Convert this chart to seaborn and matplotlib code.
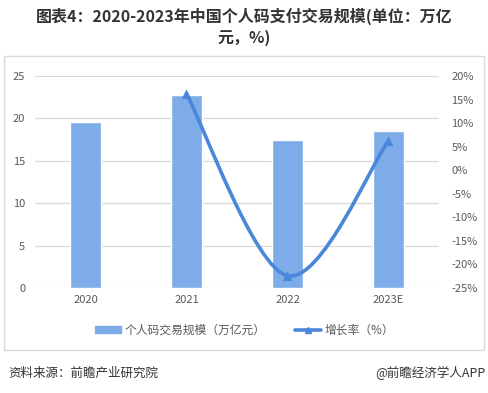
import numpy as np
import pandas as pd
import seaborn as sns
from matplotlib import pyplot as plt
from matplotlib.path import Path
from matplotlib.patches import PathPatch, Patch, Rectangle
from matplotlib.lines import Line2D

# chart data
years = ["2020", "2021", "2022", "2023E"]
scale = [19.6, 22.8, 17.5, 18.5]          # 个人码交易规模（万亿元）
growth = [np.nan, 16.2, -22.4, 6.3]       # 增长率（%）

bar_color = "#7DACE8"
line_color = "#4A87DA"
text_grey = "#595959"

sns.set_style("white")
plt.rcParams['font.family'] = ['Noto Sans CJK SC', 'DejaVu Sans']

fig = plt.figure(figsize=(4.89, 3.93), dpi=100)
ax = fig.add_axes([35 / 489, 1 - 288 / 393, 404 / 489, 212 / 393])

df = pd.DataFrame({"year": years, "scale": scale, "growth": growth})
sns.barplot(data=df, x="year", y="scale", color=bar_color, width=0.31,
            saturation=1, ax=ax, zorder=2)
ax.set_xlim(-0.5, 3.5)
ax.set_ylim(0, 25)
ax.set_yticks([0, 5, 10, 15, 20, 25])
ax.set_xlabel("")
ax.set_ylabel("")
ax.yaxis.grid(True, color="#d9d9d9", lw=0.9, zorder=0)
ax.set_axisbelow(True)
for s in ax.spines.values():
    s.set_visible(False)
ax.tick_params(axis="both", length=0, labelsize=8, labelcolor=text_grey)
ax.tick_params(axis="y", pad=7)
ax.tick_params(axis="x", pad=5)

# growth rate on the secondary axis, smoothed curve like the original
ax2 = ax.twinx()
ax2.set_ylim(-25, 20)
ax2.set_yticks(range(-25, 21, 5))
ax2.set_yticklabels([f"{v}%" for v in range(-25, 21, 5)])
ax2.tick_params(axis="y", length=0, labelsize=8, labelcolor=text_grey, pad=9)
for s in ax2.spines.values():
    s.set_visible(False)
ax2.grid(False)

g = df.dropna()
xs = np.array([years.index(y) for y in g["year"]], dtype=float)
ys = g["growth"].to_numpy(dtype=float)
pts = np.column_stack([xs, ys])
verts = [pts[0]]
codes = [Path.MOVETO]
for i in range(len(pts) - 1):
    p0 = pts[max(i - 1, 0)]
    p1 = pts[i]
    p2 = pts[i + 1]
    p3 = pts[min(i + 2, len(pts) - 1)]
    verts += [p1 + (p2 - p0) / 6, p2 - (p3 - p1) / 6, p2]
    codes += [Path.CURVE4] * 3
ax2.add_patch(PathPatch(Path(verts, codes), fill=False, edgecolor=line_color,
                        lw=2.6, capstyle="round", zorder=3))
sns.scatterplot(data=g, x=xs, y="growth", marker="^", s=38, color=line_color,
                edgecolor=line_color, ax=ax2, zorder=4, legend=False)
ax2.set_ylabel("")

# title
fig.text(0.5, 1 - 16 / 393, "图表4：2020-2023年中国个人码支付交易规模(单位：万亿",
         ha="center", va="center", fontsize=11.5, fontweight="bold", color="#333333")
fig.text(0.5, 1 - 38 / 393, "元，%)", ha="center", va="center",
         fontsize=11.5, fontweight="bold", color="#333333")

# legend
handles = [Patch(color=bar_color, label="个人码交易规模（万亿元）"),
           Line2D([0], [0], color=line_color, lw=2.6, marker="^", markersize=5,
                  label="增长率（%）")]
fig.legend(handles=handles, loc="center", bbox_to_anchor=(0.5, 1 - 330 / 393),
           ncol=2, frameon=False, fontsize=8.5, labelcolor=text_grey,
           handlelength=2.2, handleheight=0.6, columnspacing=2.5, handletextpad=0.3)

# frame around chart area
fig.patches.append(Rectangle((4 / 489, 1 - 350 / 393), 480 / 489, 294 / 393,
                             transform=fig.transFigure, fill=False,
                             edgecolor="#d9d9d9", lw=1))

# source line
fig.text(8 / 489, 1 - 373 / 393, "资料来源：前瞻产业研究院", ha="left", va="center",
         fontsize=9, color="#333333")
fig.text(486 / 489, 1 - 373 / 393, "@前瞻经济学人APP", ha="right", va="center",
         fontsize=9, color="#333333")

fig.savefig("out.png", dpi=100)
